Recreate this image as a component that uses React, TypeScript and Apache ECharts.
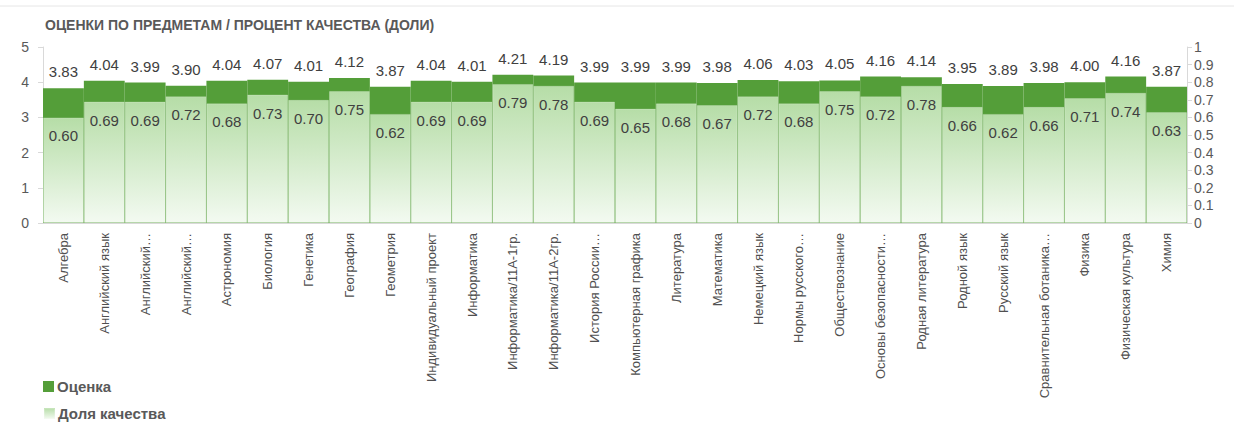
import React, { useEffect, useRef } from "react";
import * as echarts from "echarts";

const categories = [
  "Алгебра", "Английский язык", "Английский…", "Английский…", "Астрономия", "Биология",
  "Генетика", "География", "Геометрия", "Индивидуальный проект", "Информатика",
  "Информатика/11А-1гр.", "Информатика/11А-2гр.", "История России…", "Компьютерная графика",
  "Литература", "Математика", "Немецкий язык", "Нормы русского…", "Обществознание",
  "Основы безопасности…", "Родная литература", "Родной язык", "Русский язык",
  "Сравнительная ботаника…", "Физика", "Физическая культура", "Химия",
];

const grades = [
  3.83, 4.04, 3.99, 3.90, 4.04, 4.07, 4.01, 4.12, 3.87, 4.04, 4.01, 4.21, 4.19, 3.99,
  3.99, 3.99, 3.98, 4.06, 4.03, 4.05, 4.16, 4.14, 3.95, 3.89, 3.98, 4.00, 4.16, 3.87,
];

const quality = [
  0.60, 0.69, 0.69, 0.72, 0.68, 0.73, 0.70, 0.75, 0.62, 0.69, 0.69, 0.79, 0.78, 0.69,
  0.65, 0.68, 0.67, 0.72, 0.68, 0.75, 0.72, 0.78, 0.66, 0.62, 0.66, 0.71, 0.74, 0.63,
];

const FONT = "'Liberation Sans', 'Noto Sans', sans-serif";
const TEXT = "#595959";
const AXIS = "#d9d9d9";

const legendBase = {
  orient: "horizontal",
  left: 38,
  itemWidth: 11,
  itemHeight: 11,
  itemGap: 4,
  icon: "rect",
  textStyle: { fontFamily: FONT, fontSize: 15, fontWeight: "bold", color: TEXT, padding: [0, 0, 0, -2] },
};

export default function App() {
  const ref = useRef<HTMLDivElement>(null);
  useEffect(() => {
    if (!ref.current) return;
    const chart = echarts.init(ref.current, null, { renderer: "svg" });
    chart.setOption({
      animation: false,
      textStyle: { fontFamily: FONT },
      title: {
        text: "ОЦЕНКИ ПО ПРЕДМЕТАМ / ПРОЦЕНТ КАЧЕСТВА (ДОЛИ)",
        left: 40,
        top: 13,
        textStyle: { fontFamily: FONT, fontSize: 14, fontWeight: "bold", color: TEXT },
      },
      graphic: [
        { type: "line", shape: { x1: 0, y1: 6, x2: 1234, y2: 6 }, style: { stroke: "#e6e6e6", lineWidth: 1 } },
      ],
      legend: [
        { ...legendBase, top: 374, data: ["Оценка"] },
        { ...legendBase, top: 401, data: ["Доля качества"] },
      ],
      grid: { left: 43, right: 47, top: 47, bottom: 202, containLabel: false },
      xAxis: {
        type: "category",
        data: categories,
        axisLine: { lineStyle: { color: AXIS } },
        axisTick: { show: false },
        axisLabel: {
          rotate: 90,
          interval: 0,
          margin: 10,
          fontFamily: FONT,
          fontSize: 13,
          color: "#505050",
        },
      },
      yAxis: [
        {
          type: "value",
          min: 0,
          max: 5,
          interval: 1,
          splitLine: { show: false },
          axisLine: { show: true, lineStyle: { color: AXIS } },
          axisTick: { show: true, length: 5, lineStyle: { color: AXIS } },
          axisLabel: { fontFamily: FONT, fontSize: 14, color: TEXT, margin: 14 },
        },
        {
          type: "value",
          min: 0,
          max: 1,
          interval: 0.1,
          splitLine: { show: false },
          axisLine: { show: true, lineStyle: { color: AXIS } },
          axisTick: { show: true, length: 5, lineStyle: { color: AXIS } },
          axisLabel: {
            fontFamily: FONT,
            fontSize: 14,
            color: TEXT,
            margin: 7,
            formatter: (v: number) => String(+v.toFixed(1)),
          },
        },
      ],
      series: [
        {
          name: "Оценка",
          type: "bar",
          yAxisIndex: 0,
          data: grades,
          barWidth: "100%",
          barGap: "-100%",
          itemStyle: { color: "#549e39" },
          label: {
            show: true,
            position: "top",
            distance: 9,
            fontFamily: FONT,
            fontSize: 15,
            color: "#404040",
            formatter: (p: any) => p.value.toFixed(2),
          },
        },
        {
          name: "Доля качества",
          type: "bar",
          yAxisIndex: 1,
          data: quality,
          barWidth: "100%",
          barGap: "-100%",
          itemStyle: {
            color: new echarts.graphic.LinearGradient(0, 0, 0, 1, [
              { offset: 0, color: "#b6dda7" },
              { offset: 1, color: "#f3faf1" },
            ]),
            borderColor: "rgba(255,255,255,0.2)",
            borderWidth: 1,
          },
          label: {
            show: true,
            position: "insideTop",
            distance: 11,
            fontFamily: FONT,
            fontSize: 15,
            color: "#404040",
            formatter: (p: any) => p.value.toFixed(2),
          },
        },
      ],
    });
    return () => chart.dispose();
  }, []);
  return (
    <div
      ref={ref}
      style={{ position: "fixed", left: 0, top: 0, width: 1234, height: 425, background: "#fff" }}
    />
  );
}
